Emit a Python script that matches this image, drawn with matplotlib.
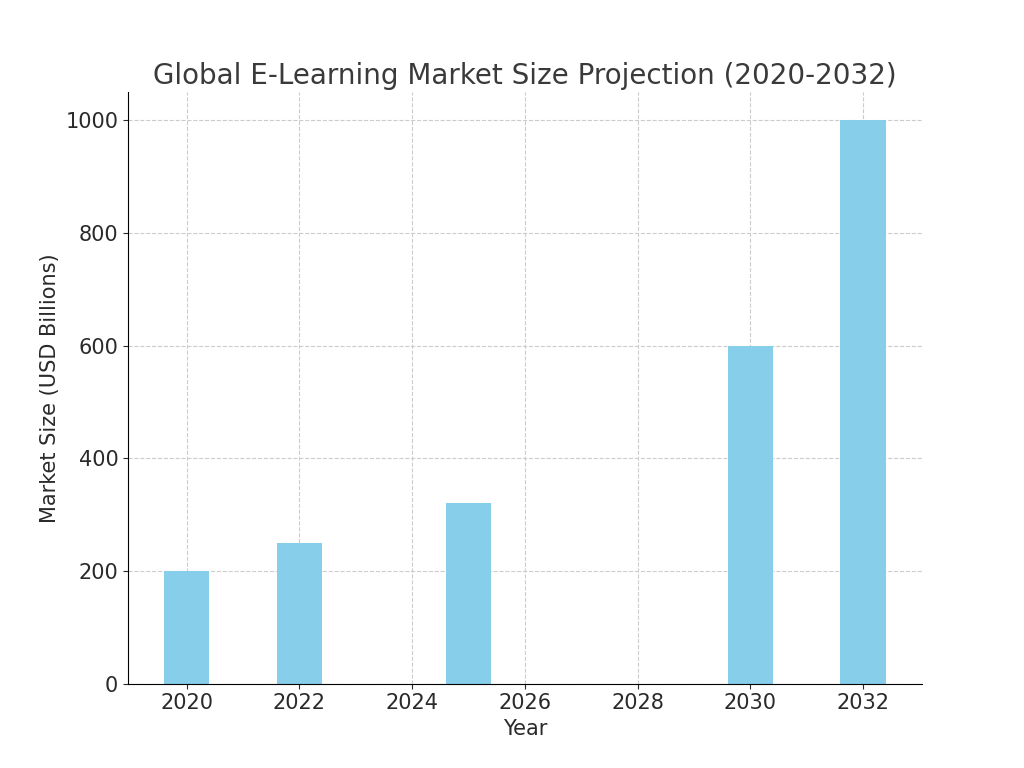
import matplotlib
matplotlib.use("Agg")
import matplotlib.pyplot as plt

years = [2020, 2022, 2025, 2030, 2032]
market_size = [200, 250, 320, 600, 1000]
xticks = [2020, 2022, 2024, 2026, 2028, 2030, 2032]

fig, ax = plt.subplots(figsize=(10.24, 7.68), dpi=100)
ax.bar(years, market_size, width=0.8, color="#87CEEB", zorder=2)
ax.set_title("Global E-Learning Market Size Projection (2020-2032)", fontsize=20, color="#3a3a3a")
ax.set_xlabel("Year", fontsize=15, color="#2a2a2a")
ax.set_ylabel("Market Size (USD Billions)", fontsize=15, color="#2a2a2a")
ax.set_xticks(xticks)
ax.tick_params(labelsize=15, colors="#2a2a2a")
ax.grid(True, linestyle="--", color="#cccccc", linewidth=0.8, zorder=0)
ax.set_axisbelow(True)
for s in ["top", "right"]:
    ax.spines[s].set_visible(False)
ax.set_ylim(0, 1050)
fig.savefig("out.png")
